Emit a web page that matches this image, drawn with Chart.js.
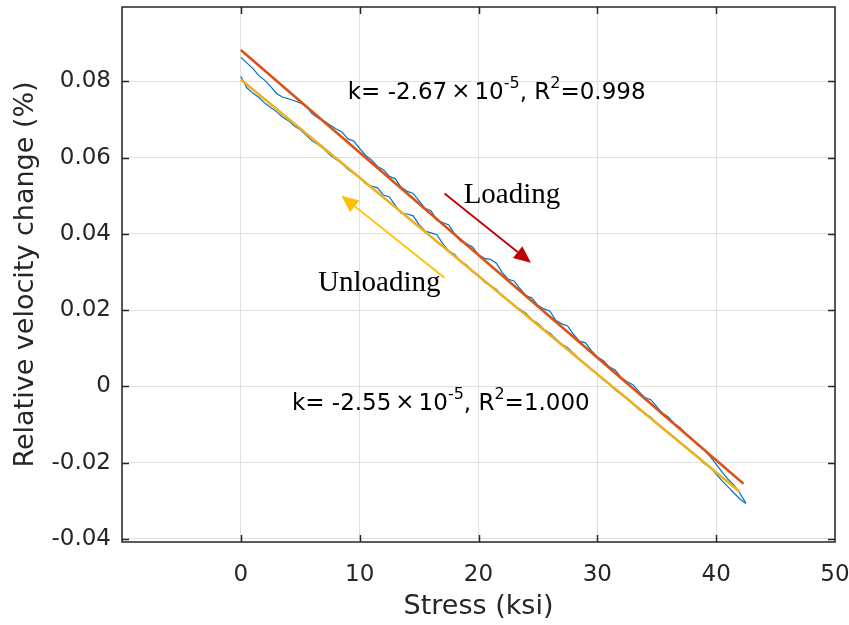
<!DOCTYPE html>
<html><head><meta charset="utf-8">
<script src="https://cdn.jsdelivr.net/npm/chart.js@4/dist/chart.umd.min.js"></script>
<style>html,body{margin:0;padding:0;background:#fff}#wrap{width:849px;height:625px;position:relative}</style>
</head><body><div id="wrap"><canvas id="c" width="849" height="625"></canvas></div>
<script>
// ---------- data ----------
const stress = [0,0.5,1,1.5,2,2.5,3,3.5,4,4.5,5,5.5,6,6.5,7,7.5,8,8.5,9,9.5,10,10.5,11,11.5,12,12.5,13,13.5,14,14.5,15,15.5,16,16.5,17,17.5,18,18.5,19,19.5,20,20.5,21,21.5,22,22.5,23,23.5,24,24.5,25,25.5,26,26.5,27,27.5,28,28.5,29,29.5,30,30.5,31,31.5,32,32.5,33,33.5,34,34.5,35,35.5,36,36.5,37,37.5,38,38.5,39,39.5,40,40.5,41,41.5,42,42.5];
const loadingVel = [0.0863,0.08486,0.08341,0.08157,0.08032,0.07868,0.07683,0.07589,0.07544,0.07490,0.07435,0.07351,0.07147,0.07042,0.06958,0.06853,0.06759,0.06674,0.06490,0.06435,0.06241,0.06057,0.05942,0.05768,0.05683,0.05509,0.05444,0.05220,0.05115,0.05061,0.04867,0.04672,0.04608,0.04353,0.04299,0.04234,0.04000,0.03805,0.03741,0.03657,0.03452,0.03358,0.03333,0.03229,0.02984,0.02810,0.02765,0.02561,0.02386,0.02322,0.02128,0.02033,0.01979,0.01734,0.01640,0.01585,0.01361,0.01186,0.01142,0.00938,0.00773,0.00679,0.00514,0.00430,0.00235,0.00121,0.00046,-0.00138,-0.00293,-0.00347,-0.00532,-0.00706,-0.00810,-0.00985,-0.01089,-0.01274,-0.01378,-0.01543,-0.01667,-0.01842,-0.02036,-0.02250,-0.02435,-0.02589,-0.02804,-0.03058];
const unloadingVel = [0.08130,0.07831,0.07692,0.07583,0.07435,0.07316,0.07207,0.07068,0.06969,0.06830,0.06732,0.06583,0.06444,0.06345,0.06226,0.06067,0.05958,0.05850,0.05691,0.05582,0.05483,0.05314,0.05255,0.05207,0.05018,0.04969,0.04750,0.04541,0.04522,0.04473,0.04245,0.04076,0.04027,0.03978,0.03739,0.03550,0.03461,0.03273,0.03184,0.03005,0.02916,0.02737,0.02638,0.02550,0.02361,0.02262,0.02113,0.02024,0.01915,0.01746,0.01648,0.01499,0.01400,0.01251,0.01112,0.01013,0.00864,0.00716,0.00597,0.00438,0.00329,0.00170,0.00061,-0.00097,-0.00206,-0.00305,-0.00454,-0.00603,-0.00702,-0.00810,-0.00969,-0.01118,-0.01217,-0.01336,-0.01485,-0.01624,-0.01722,-0.01871,-0.02020,-0.02129,-0.02298,-0.02477,-0.02635,-0.02794,-0.02953,-0.03072];
const loadFitX = [0, 42.3];
const loadFitY = [0.0882, -0.0255];
const unloadFitX = [0, 42.0];
const unloadFitY = [0.0805, -0.0277];
const xTicks = [-10, 0, 10, 20, 30, 40, 50];
const yTicks = [-0.04, -0.02, 0, 0.02, 0.04, 0.06, 0.08];

// ---------- annotations (data coordinates) ----------
const notes = [
  {x: 9.0, y: 0.0755, parts: [["k= -2.67",0],["\u00D7",2],["10",0],["-5",1],[", R",0],["2",1],["=0.998",0]]},
  {x: 4.3, y: -0.0061, parts: [["k= -2.55",0],["\u00D7",2],["10",0],["-5",1],[", R",0],["2",1],["=1.000",0]]}
];
const serifNotes = [
  {x: 18.75, y: 0.0482, text: "Loading"},
  {x: 6.5, y: 0.0250, text: "Unloading"}
];
const arrows = [
  {x1: 17.14, y1: 0.0506, x2: 24.41, y2: 0.03245, color: "#C00000"},
  {x1: 17.14, y1: 0.0285, x2: 8.47, y2: 0.0500, color: "#FFC000"}
];

const SANS = "'DejaVu Sans', 'Liberation Sans', sans-serif";
const AX = "#262626";

const pts = (xs, ys) => xs.map((x, i) => ({x: x, y: ys[i]}));

const framePlugin = {
  id: 'frame',
  afterDraw(chart) {
    const {ctx, chartArea: a, scales: {x, y}} = chart;
    ctx.save();
    ctx.strokeStyle = AX;
    ctx.lineWidth = 1.5;
    ctx.beginPath();
    ctx.rect(a.left, a.top, a.right - a.left, a.bottom - a.top);
    ctx.stroke();
    const tl = 7;
    ctx.beginPath();
    xTicks.forEach(v => {
      const px = Math.round(x.getPixelForValue(v)) + 0.5;
      if (px <= a.left + 1 || px >= a.right - 1) return;
      ctx.moveTo(px, a.bottom); ctx.lineTo(px, a.bottom - tl);
      ctx.moveTo(px, a.top); ctx.lineTo(px, a.top + tl);
    });
    yTicks.forEach(v => {
      const py = Math.round(y.getPixelForValue(v)) + 0.5;
      ctx.moveTo(a.left, py); ctx.lineTo(a.left + tl, py);
      ctx.moveTo(a.right, py); ctx.lineTo(a.right - tl, py);
    });
    ctx.stroke();
    ctx.restore();
  }
};

const notePlugin = {
  id: 'notes',
  afterDatasetsDraw(chart) {
    const {ctx, scales: {x, y}} = chart;
    ctx.save();
    arrows.forEach(ar => {
      const x1 = x.getPixelForValue(ar.x1), y1 = y.getPixelForValue(ar.y1);
      const x2 = x.getPixelForValue(ar.x2), y2 = y.getPixelForValue(ar.y2);
      const ang = Math.atan2(y2 - y1, x2 - x1);
      const hl = 17, hw = 7.5;
      const bx = x2 - hl * Math.cos(ang), by = y2 - hl * Math.sin(ang);
      ctx.strokeStyle = ar.color; ctx.fillStyle = ar.color; ctx.lineWidth = 1.8;
      ctx.beginPath(); ctx.moveTo(x1, y1); ctx.lineTo(bx, by); ctx.stroke();
      ctx.beginPath();
      ctx.moveTo(x2, y2);
      ctx.lineTo(bx + hw * Math.sin(ang), by - hw * Math.cos(ang));
      ctx.lineTo(bx - hw * Math.sin(ang), by + hw * Math.cos(ang));
      ctx.closePath(); ctx.fill();
    });
    ctx.fillStyle = "#000";
    ctx.textBaseline = "alphabetic";
    ctx.textAlign = "left";
    notes.forEach(n => {
      let px = x.getPixelForValue(n.x);
      const py = y.getPixelForValue(n.y);
      n.parts.forEach(([t, kind]) => {
        if (kind === 1) {
          ctx.font = "16px " + SANS;
          ctx.fillText(t, px, py - 11);
          px += ctx.measureText(t).width;
        } else if (kind === 2) {
          ctx.font = "23px " + SANS;
          px += 4;
          ctx.fillText(t, px, py - 1);
          px += ctx.measureText(t).width + 4;
        } else {
          ctx.font = "23px " + SANS;
          ctx.fillText(t, px, py);
          px += ctx.measureText(t).width;
        }
      });
    });
    ctx.font = "29px 'Liberation Serif', 'Times New Roman', serif";
    serifNotes.forEach(n => {
      ctx.fillText(n.text, x.getPixelForValue(n.x), y.getPixelForValue(n.y));
    });
    ctx.restore();
  }
};

new Chart(document.getElementById('c'), {
  type: 'line',
  data: {
    datasets: [
      {data: pts(loadFitX, loadFitY), borderColor: '#D95319', borderWidth: 2.6, pointRadius: 0, fill: false},
      {data: pts(unloadFitX, unloadFitY), borderColor: '#EDB120', borderWidth: 2.6, pointRadius: 0, fill: false},
      {data: pts(stress, loadingVel), borderColor: '#0072BD', borderWidth: 1.2, pointRadius: 0, fill: false},
      {data: pts(stress, unloadingVel), borderColor: '#0072BD', borderWidth: 1.2, pointRadius: 0, fill: false}
    ]
  },
  options: {
    responsive: false,
    devicePixelRatio: 1,
    animation: false,
    layout: {padding: {top: 7, right: 14, left: 0, bottom: 0}},
    plugins: {legend: {display: false}, tooltip: {enabled: false}},
    elements: {line: {tension: 0}},
    scales: {
      x: {
        type: 'linear', min: -10, max: 50,
        afterBuildTicks: s => { s.ticks = xTicks.map(v => ({value: v})); },
        afterFit: s => { s.height = 83; s.paddingLeft = 0; s.paddingRight = 0; },
        grid: {color: '#e0e0e0', lineWidth: 1, drawTicks: false},
        border: {display: false},
        ticks: {
          color: AX, font: {family: SANS, size: 23}, padding: 19, maxRotation: 0,
          callback: v => (v === -10 ? '' : String(v))
        },
        title: {display: true, text: 'Stress (ksi)', color: AX, font: {family: SANS, size: 27}, padding: {top: 0, bottom: 2}}
      },
      y: {
        type: 'linear', min: -0.0408, max: 0.0995,
        afterBuildTicks: s => { s.ticks = yTicks.map(v => ({value: v})); },
        afterFit: s => { s.width = 122; s.paddingTop = 0; s.paddingBottom = 0; },
        grid: {color: '#e0e0e0', lineWidth: 1, drawTicks: false},
        border: {display: false},
        ticks: {
          color: AX, font: {family: SANS, size: 23}, padding: 11,
          callback: v => (Math.abs(v) < 1e-9 ? '0' : v.toFixed(2))
        },
        title: {display: true, text: 'Relative velocity change (%)', color: AX, font: {family: SANS, size: 27}, padding: {top: 10, bottom: 0}}
      }
    }
  },
  plugins: [framePlugin, notePlugin]
});
</script>
</body></html>
